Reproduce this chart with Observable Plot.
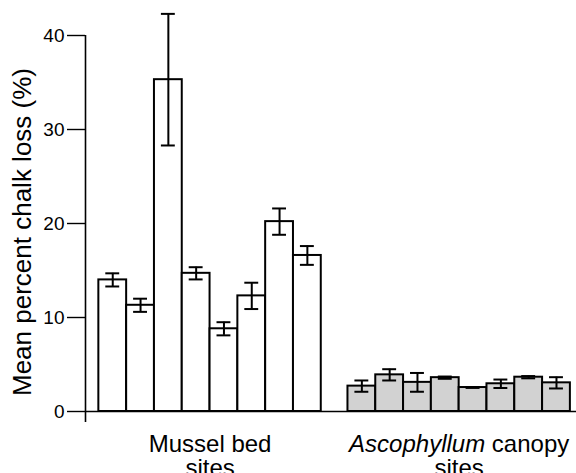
<!DOCTYPE html>
<html><head><meta charset="utf-8">
<script src="https://cdn.jsdelivr.net/npm/d3@7"></script>
<script src="https://cdn.jsdelivr.net/npm/@observablehq/plot@0.6"></script>
<style>body{margin:0;background:#fff}</style>
</head><body><div id="chart"></div>
<script>
// ---- data ----
const groupNames = ["Mussel bed\nsites", "Ascophyllum canopy\nsites"];
const musselMeans  = [14.0, 11.3, 35.3, 14.7, 8.8, 12.3, 20.2, 16.6];
const musselErrors = [0.7, 0.7, 7.0, 0.65, 0.7, 1.4, 1.4, 1.0];
const ascoMeans    = [2.7, 3.9, 3.1, 3.6, 2.55, 2.95, 3.65, 3.05];
const ascoErrors   = [0.6, 0.6, 1.0, 0.12, 0.04, 0.45, 0.12, 0.6];
const yTicks = [0, 10, 20, 30, 40];
const yLabel = "Mean percent chalk loss (%)";

// ---- layout (slot units on a linear x scale) ----
const groupStart = [0.48, 9.44];
const fills = ["white", "#d2d2d2"];

const rows = [];
[[musselMeans, musselErrors], [ascoMeans, ascoErrors]].forEach(([m, e], g) => {
  m.forEach((v, i) => rows.push({g, x1: groupStart[g] + i, x2: groupStart[g] + i + 1, xc: groupStart[g] + i + 0.5, mean: v, err: e[i]}));
});
const labels = groupNames.map((t, g) => ({t, x: groupStart[g] + 4}));

const chart = Plot.plot({
  width: 576, height: 473,
  marginLeft: 85, marginRight: 0, marginTop: 35, marginBottom: 51,
  x: {domain: [0, 17.66], axis: null},
  y: {domain: [-1.17, 40]},
  style: {fontFamily: "'Liberation Sans', Arial, Helvetica, sans-serif", background: "white", color: "black"},
  marks: [
    Plot.rect(rows, {x1: "x1", x2: "x2", y1: 0, y2: "mean", fill: d => fills[d.g], stroke: "black", strokeWidth: 2}),
    Plot.ruleX(rows, {x: "xc", y1: d => d.mean - d.err, y2: d => d.mean + d.err, strokeWidth: 2}),
    Plot.ruleY(rows, {y: d => d.mean + d.err, x1: d => d.xc - 0.25, x2: d => d.xc + 0.25, strokeWidth: 2}),
    Plot.ruleY(rows, {y: d => d.mean - d.err, x1: d => d.xc - 0.25, x2: d => d.xc + 0.25, strokeWidth: 2}),
    Plot.ruleY([0], {strokeWidth: 1.6}),
    Plot.ruleX([0], {strokeWidth: 1.6}),
    Plot.axisY({ticks: yTicks, tickSize: 18, tickPadding: 3, fontSize: 19, label: null, strokeWidth: 1.4}),
    Plot.text([yLabel], {text: d => d, frameAnchor: "left", textAnchor: "middle", rotate: -90, dx: -63, dy: 3, fontSize: 26, lineAnchor: "middle"}),
    Plot.text(labels, {x: "x", text: "t", frameAnchor: "bottom", lineAnchor: "top", dy: 12, fontSize: 24, lineHeight: 1})
  ]
});

const ns = "http://www.w3.org/2000/svg";
chart.querySelectorAll("tspan, text").forEach(t => {
  if (t.childElementCount === 0 && t.textContent.startsWith("Ascophyllum canopy")) {
    const rest = t.textContent.slice("Ascophyllum".length);
    t.textContent = "";
    const it = document.createElementNS(ns, "tspan");
    it.setAttribute("font-style", "italic");
    it.textContent = "Ascophyllum";
    t.appendChild(it);
    t.appendChild(document.createTextNode(rest));
  }
});
document.getElementById("chart").appendChild(chart);
</script>
</body></html>
